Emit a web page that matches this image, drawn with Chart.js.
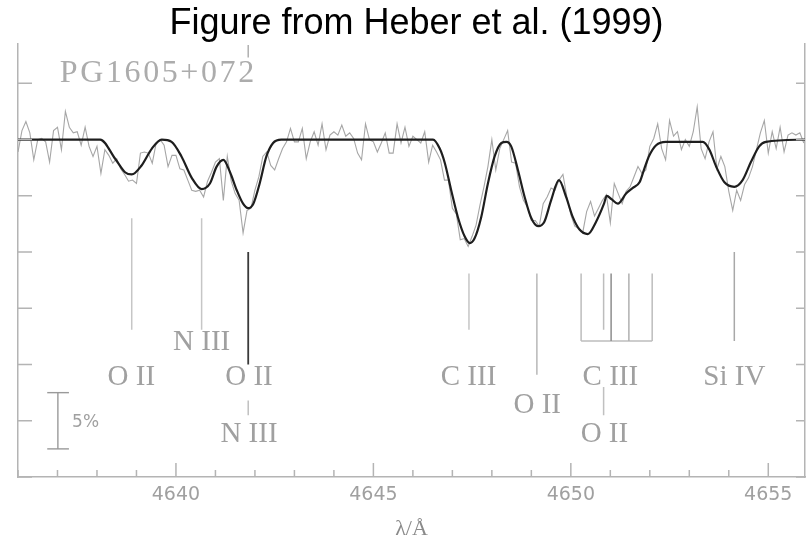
<!DOCTYPE html>
<html lang="en">
<head>
    <meta charset="UTF-8">
    <title>PG1605+072 spectrum (Heber et al. 1999)</title>
    <script src="https://cdn.jsdelivr.net/npm/chart.js"></script>
    <style>
        body {
            margin: 0;
            background: #fff;
        }
        canvas {
            display: block;
        }
    </style>
</head>
<body>

    <canvas id="spectrum" width="807" height="540"></canvas>

    <script>
        // observed spectrum, relative flux sampled every 0.1 A
        const wavelength = [
            4636.0, 4636.1, 4636.2, 4636.3, 4636.4, 4636.5, 4636.6, 4636.7, 4636.8, 4636.9,
            4637.0, 4637.1, 4637.2, 4637.3, 4637.4, 4637.5, 4637.6, 4637.7, 4637.8, 4637.9,
            4638.0, 4638.1, 4638.2, 4638.3, 4638.4, 4638.5, 4638.6, 4638.7, 4638.8, 4638.9,
            4639.0, 4639.1, 4639.2, 4639.3, 4639.4, 4639.5, 4639.6, 4639.7, 4639.8, 4639.9,
            4640.0, 4640.1, 4640.2, 4640.3, 4640.4, 4640.5, 4640.6, 4640.7, 4640.8, 4640.9,
            4641.0, 4641.1, 4641.2, 4641.3, 4641.4, 4641.5, 4641.6, 4641.7, 4641.8, 4641.9,
            4642.0, 4642.1, 4642.2, 4642.3, 4642.4, 4642.5, 4642.6, 4642.7, 4642.8, 4642.9,
            4643.0, 4643.1, 4643.2, 4643.3, 4643.4, 4643.5, 4643.6, 4643.7, 4643.8, 4643.9,
            4644.0, 4644.1, 4644.2, 4644.3, 4644.4, 4644.5, 4644.6, 4644.7, 4644.8, 4644.9,
            4645.0, 4645.1, 4645.2, 4645.3, 4645.4, 4645.5, 4645.6, 4645.7, 4645.8, 4645.9,
            4646.0, 4646.1, 4646.2, 4646.3, 4646.4, 4646.5, 4646.6, 4646.7, 4646.8, 4646.9,
            4647.0, 4647.1, 4647.2, 4647.3, 4647.4, 4647.5, 4647.6, 4647.7, 4647.8, 4647.9,
            4648.0, 4648.1, 4648.2, 4648.3, 4648.4, 4648.5, 4648.6, 4648.7, 4648.8, 4648.9,
            4649.0, 4649.1, 4649.2, 4649.3, 4649.4, 4649.5, 4649.6, 4649.7, 4649.8, 4649.9,
            4650.0, 4650.1, 4650.2, 4650.3, 4650.4, 4650.5, 4650.6, 4650.7, 4650.8, 4650.9,
            4651.0, 4651.1, 4651.2, 4651.3, 4651.4, 4651.5, 4651.6, 4651.7, 4651.8, 4651.9,
            4652.0, 4652.1, 4652.2, 4652.3, 4652.4, 4652.5, 4652.6, 4652.7, 4652.8, 4652.9,
            4653.0, 4653.1, 4653.2, 4653.3, 4653.4, 4653.5, 4653.6, 4653.7, 4653.8, 4653.9,
            4654.0, 4654.1, 4654.2, 4654.3, 4654.4, 4654.5, 4654.6, 4654.7, 4654.8, 4654.9,
            4655.0, 4655.1, 4655.2, 4655.3, 4655.4, 4655.5, 4655.6, 4655.7, 4655.8, 4655.9
        ];
        const observed = [
            0.989, 1.008, 1.016, 1.006, 0.982, 1.000, 1.001, 0.998, 0.980, 1.008,
            1.011, 0.991, 1.025, 1.011, 1.006, 1.007, 0.995, 1.011, 0.994, 0.985,
            0.994, 0.970, 0.991, 0.986, 0.979, 0.983, 0.974, 0.969, 0.963, 0.964,
            0.961, 0.988, 0.989, 0.988, 0.979, 0.997, 1.000, 0.995, 0.976, 0.986,
            0.986, 0.974, 0.973, 0.964, 0.955, 0.954, 0.955, 0.949, 0.963, 0.971,
            0.980, 0.983, 0.946, 0.985, 0.963, 0.952, 0.946, 0.917, 0.937, 0.939,
            0.955, 0.967, 0.985, 0.989, 0.977, 0.973, 0.983, 0.992, 0.998, 1.010,
            0.998, 0.998, 1.010, 0.983, 0.998, 1.007, 0.995, 1.014, 0.991, 1.004,
            1.007, 1.004, 1.013, 1.003, 1.006, 1.001, 0.988, 0.982, 1.014, 1.000,
            0.998, 0.989, 0.997, 1.006, 0.988, 0.988, 1.014, 0.997, 1.011, 0.994,
            1.003, 1.000, 0.997, 1.007, 0.980, 0.995, 0.989, 0.982, 0.964, 0.964,
            0.939, 0.934, 0.911, 0.912, 0.905, 0.914, 0.924, 0.942, 0.958, 0.976,
            1.000, 0.973, 0.992, 1.000, 1.008, 0.980, 0.979, 0.958, 0.946, 0.940,
            0.928, 0.928, 0.923, 0.943, 0.949, 0.957, 0.955, 0.964, 0.969, 0.949,
            0.933, 0.923, 0.921, 0.917, 0.936, 0.945, 0.932, 0.939, 0.946, 0.951,
            0.926, 0.961, 0.952, 0.943, 0.954, 0.958, 0.967, 0.976, 0.970, 0.973,
            0.994, 1.001, 1.014, 0.992, 0.982, 1.017, 1.003, 1.007, 0.991, 1.000,
            0.994, 1.007, 1.029, 0.992, 0.983, 0.998, 1.007, 0.974, 0.985, 0.976,
            0.954, 0.937, 0.955, 0.946, 0.960, 0.966, 0.976, 0.991, 1.006, 1.017,
            0.988, 1.007, 0.992, 1.011, 0.989, 1.004, 1.006, 1.004, 1.006, 0.997
        ];

        // model fit (black curve)
        const modelWave = [
            4636.00, 4638.08, 4638.46, 4638.71, 4638.88, 4639.13, 4639.39, 4639.64, 4639.89, 4640.14,
            4640.40, 4640.65, 4640.86, 4641.03, 4641.20, 4641.37, 4641.54, 4641.70, 4641.83, 4641.96,
            4642.12, 4642.29, 4642.46, 4642.67, 4646.51, 4646.68, 4646.81, 4646.97, 4647.14, 4647.31,
            4647.44, 4647.56, 4647.73, 4647.90, 4648.07, 4648.24, 4648.37, 4648.49, 4648.66, 4648.83,
            4649.00, 4649.17, 4649.33, 4649.50, 4649.70, 4649.88, 4650.05, 4650.22, 4650.43, 4650.64,
            4650.84, 4650.91, 4651.03, 4651.19, 4651.40, 4651.57, 4651.74, 4651.86, 4651.99, 4652.16,
            4652.41, 4653.34, 4653.51, 4653.68, 4653.89, 4654.14, 4654.35, 4654.56, 4654.77, 4654.94,
            4655.93
        ];
        const modelFlux = [
            1.000, 1.000, 0.983, 0.971, 0.969, 0.977, 0.992, 1.000, 0.998, 0.985,
            0.966, 0.956, 0.961, 0.976, 0.982, 0.971, 0.955, 0.943, 0.939, 0.943,
            0.961, 0.985, 0.997, 1.000, 1.000, 0.992, 0.979, 0.955, 0.931, 0.914,
            0.908, 0.912, 0.931, 0.961, 0.985, 0.997, 0.998, 0.994, 0.973, 0.949,
            0.930, 0.923, 0.927, 0.946, 0.964, 0.949, 0.931, 0.920, 0.916, 0.927,
            0.943, 0.950, 0.947, 0.943, 0.952, 0.957, 0.962, 0.974, 0.986, 0.995,
            0.998, 0.998, 0.991, 0.976, 0.962, 0.958, 0.964, 0.980, 0.994, 0.998,
            1.000
        ];

        // line identification marks: wavelength, top and bottom of each tick
        const markWave   = [4638.88, 4640.65, 4641.83, 4641.83, 4641.83, 4647.42, 4649.14, 4650.26, 4650.83, 4651.02, 4651.47, 4652.06, 4650.83, 4654.14];
        const markTop    = [0.930, 0.930, 0.900, 0.768, 1.084, 0.881, 0.881, 0.881, 0.881, 0.881, 0.881, 0.881, 0.780, 0.900];
        const markBottom = [0.831, 0.831, 0.800, 0.755, 1.073, 0.831, 0.791, 0.821, 0.831, 0.821, 0.821, 0.821, 0.755, 0.821];
        const markShade  = ['#c6c6c6', '#c6c6c6', '#3a3a3a', '#c0c0c0', '#b0b0b0', '#c6c6c6', '#b8b8b8', '#bdbdbd', '#bdbdbd', '#8e8e8e', '#b0b0b0', '#bdbdbd', '#c0c0c0', '#a8a8a8'];
        const bracketWave = [4650.26, 4652.06];
        const bracketFlux = 0.821;

        const ionLabel     = ['O II', 'N III', 'O II', 'N III', 'C III', 'O II', 'C III', 'O II', 'Si IV'];
        const ionLabelWave = [4638.87, 4640.65, 4641.85, 4641.85, 4647.41, 4649.15, 4651.00, 4650.85, 4654.14];
        const ionLabelFlux = [0.789, 0.820, 0.789, 0.738, 0.789, 0.764, 0.789, 0.738, 0.789];

        // 5% scale bar
        const barWave = [4636.74, 4637.01, 4637.29];
        const barFlux = [0.725, 0.775];

        const xTickStep = 1;
        const yTickStep = 0.05;
        const axisGrey = '#b4b4b4';
        const labelGrey = '#a0a0a0';

        function segment(x1, y1, x2, y2, color, width) {
            return {
                data: [{x: x1, y: y1}, {x: x2, y: y2}],
                borderColor: color,
                borderWidth: width,
                pointRadius: 0,
                tension: 0,
                order: 3
            };
        }

        const datasets = [
            {
                label: 'observed',
                data: wavelength.map((w, i) => ({x: w, y: observed[i]})),
                borderColor: '#a6a6a6',
                borderWidth: 1.1,
                pointRadius: 0,
                tension: 0,
                order: 2
            },
            {
                label: 'model',
                data: modelWave.map((w, i) => ({x: w, y: modelFlux[i]})),
                borderColor: '#1e1e1e',
                borderWidth: 2.2,
                pointRadius: 0,
                cubicInterpolationMode: 'monotone',
                order: 1
            }
        ];
        markWave.forEach((w, i) => {
            datasets.push(segment(w, markTop[i], w, markBottom[i], markShade[i], i === 2 ? 1.8 : 1.5));
        });
        datasets.push(segment(bracketWave[0], bracketFlux, bracketWave[1], bracketFlux, '#bdbdbd', 1.5));
        datasets.push(segment(barWave[1], barFlux[0], barWave[1], barFlux[1], '#9a9a9a', 1.4));
        datasets.push(segment(barWave[0], barFlux[0], barWave[2], barFlux[0], '#9a9a9a', 1.4));
        datasets.push(segment(barWave[0], barFlux[1], barWave[2], barFlux[1], '#9a9a9a', 1.4));

        // inward ticks on the frame, plus the texts inside the plot
        const frameAndText = {
            id: 'frameAndText',
            afterDatasetsDraw(chart) {
                const {ctx, chartArea: a, scales: {x, y}} = chart;
                ctx.save();
                ctx.strokeStyle = axisGrey;
                ctx.lineWidth = 1.5;
                ctx.beginPath();
                x.ticks.forEach(t => {
                    if (!Number.isInteger(t.value)) return;
                    const px = x.getPixelForValue(t.value);
                    const len = t.value % 5 === 0 ? 14 : 7;
                    ctx.moveTo(px, a.bottom);
                    ctx.lineTo(px, a.bottom - len);
                });
                y.ticks.forEach(t => {
                    if (Math.round(t.value * 1000) % 50 !== 0) return;
                    const py = y.getPixelForValue(t.value);
                    ctx.moveTo(a.left, py);
                    ctx.lineTo(a.left + 14, py);
                    ctx.moveTo(a.right, py);
                    ctx.lineTo(a.right - 9, py);
                });
                ctx.stroke();

                ctx.fillStyle = labelGrey;
                ctx.textAlign = 'center';
                ctx.textBaseline = 'middle';
                ctx.font = '29px "Liberation Serif"';
                ionLabel.forEach((txt, i) => {
                    ctx.fillText(txt, x.getPixelForValue(ionLabelWave[i]), y.getPixelForValue(ionLabelFlux[i]));
                });

                ctx.textAlign = 'left';
                ctx.font = '17px "DejaVu Sans"';
                ctx.fillText('5%', x.getPixelForValue(4637.37), y.getPixelForValue(0.748));

                ctx.fillStyle = '#acacac';
                ctx.font = '32px "Liberation Serif"';
                ctx.letterSpacing = '2.6px';
                ctx.fillText('PG1605+072', x.getPixelForValue(4637.06), y.getPixelForValue(1.059));
                ctx.restore();

                ctx.save();
                ctx.fillStyle = '#000';
                ctx.textAlign = 'center';
                ctx.textBaseline = 'alphabetic';
                ctx.font = '36px "Liberation Sans", Arial, sans-serif';
                ctx.fillText('Figure from Heber et al. (1999)', 416.5, 34);
                ctx.restore();
            }
        };

        new Chart(document.getElementById('spectrum'), {
            type: 'line',
            data: {datasets: datasets},
            options: {
                responsive: false,
                animation: false,
                layout: {padding: {left: 18, right: 2, top: 44, bottom: 0}},
                plugins: {
                    legend: {display: false},
                    tooltip: {enabled: false},
                    title: {display: false}
                },
                scales: {
                    x: {
                        type: 'linear',
                        min: 4636,
                        max: 4655.93,
                        grid: {display: false, drawTicks: false},
                        border: {display: true, color: axisGrey, width: 1.5},
                        ticks: {
                            stepSize: xTickStep,
                            autoSkip: false,
                            maxRotation: 0,
                            includeBounds: false,
                            padding: 8.5,
                            color: labelGrey,
                            font: {family: 'DejaVu Sans', size: 19, lineHeight: 1},
                            callback: v => (v % 5 === 0 ? String(v) : '')
                        },
                        title: {
                            display: true,
                            text: 'λ/Å',
                            color: '#8a8a8a',
                            font: {family: 'Liberation Serif', size: 22, lineHeight: 1},
                            padding: {top: 5, bottom: 0}
                        }
                    },
                    y: {
                        type: 'linear',
                        position: 'left',
                        min: 0.70,
                        max: 1.085,
                        grid: {display: false, drawTicks: false},
                        border: {display: true, color: axisGrey, width: 1.5},
                        ticks: {display: false, stepSize: yTickStep}
                    },
                    y2: {
                        type: 'linear',
                        position: 'right',
                        min: 0.70,
                        max: 1.085,
                        grid: {display: false, drawTicks: false},
                        border: {display: true, color: axisGrey, width: 1.5},
                        ticks: {display: false, stepSize: yTickStep}
                    }
                }
            },
            plugins: [frameAndText]
        });
    </script>

</body>
</html>
